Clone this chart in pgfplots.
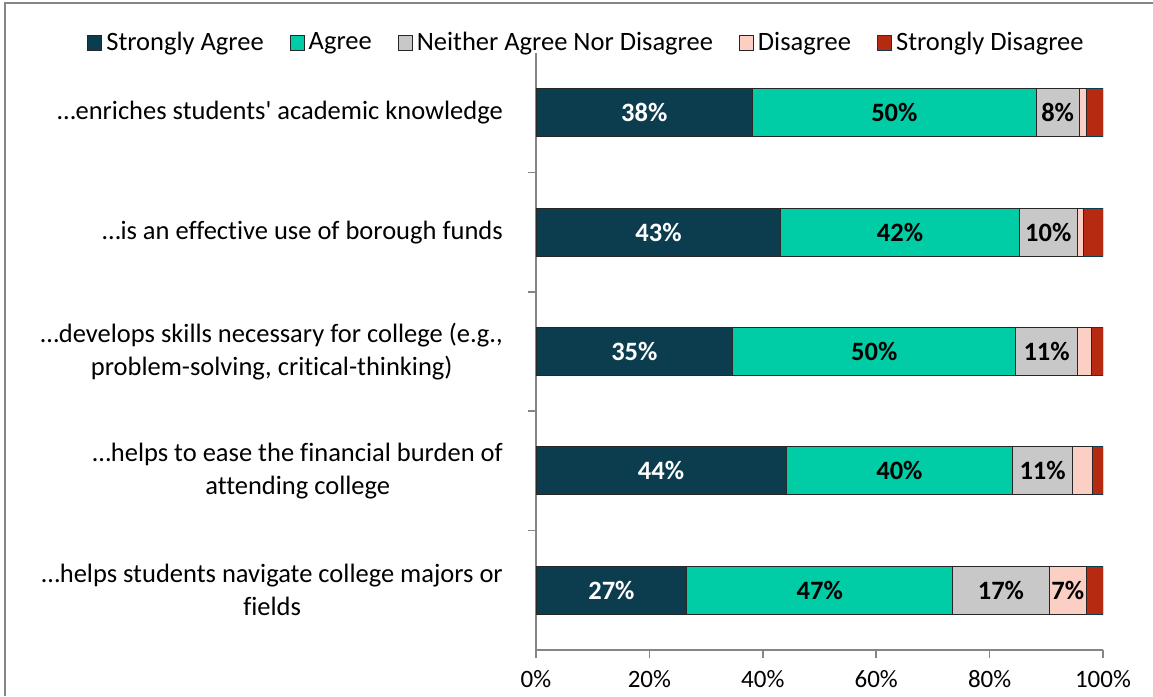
\documentclass[border=0pt]{standalone}
\usepackage{pgfplots}
\pgfplotsset{compat=1.18}
\usepackage{fontspec}
\setmainfont{Carlito}[Ligatures={TeXOff,NoCommon}]
\definecolor{sa}{HTML}{0B3D4F}
\definecolor{ag}{HTML}{00CCA6}
\definecolor{ne}{HTML}{C8C8C8}
\definecolor{di}{HTML}{FCCFC4}
\definecolor{sd}{HTML}{B72A12}
\definecolor{axc}{HTML}{868686}
\newcommand{\bigf}{\fontsize{26.5}{33}\selectfont}
\begin{document}
\fontsize{25}{33}\selectfont
\begin{tikzpicture}[x=1pt,y=1pt]
\useasboundingbox (0,0) rectangle (1153,696);
\draw[axc, line width=2pt] (5,0) -- (5,693) -- (1153,693);
\begin{axis}[
  at={(536pt,46pt)}, anchor=south west,
  width=567pt, height=597pt, scale only axis,
  xbar stacked, bar width=48pt,
  xmin=0, xmax=100, ymin=0.5, ymax=5.5,
  axis x line*=bottom, axis y line*=left,
  axis line style={axc, line width=1.5pt},
  xtick={0,20,...,100}, xticklabels={0\%,20\%,40\%,60\%,80\%,100\%},
  tick style={draw=axc, line width=1.5pt},
  major tick length=8pt, tick align=outside,
  ytick={1.5,2.5,3.5,4.5}, yticklabels={},
  extra y ticks={1,2,3,4,5},
  extra y tick labels={{…helps students navigate college majors or\\fields},
    {…helps to ease the financial burden of\\attending college},
    {…develops skills necessary for college (e.g.,\\problem-solving, critical-thinking)},
    {…is an effective use of borough funds},
    {…enriches students' academic knowledge}},
  extra y tick style={major tick length=0pt},
  yticklabel style={align=center, inner sep=0pt, xshift=-33pt, font=\bigf},
  xticklabel style={yshift=-4pt},
  point meta=explicit symbolic,
  nodes near coords,
  every node near coord/.style={anchor=center, font=\bigf\bfseries},
  legend style={at={(0.089,1.017)}, anchor=center, draw=none, fill=none, font=\bigf,
    legend columns=-1, /tikz/every even column/.append style={column sep=24pt},
    /tikz/every odd column/.append style={column sep=2pt}},
  legend image code/.code={\draw[#1, line width=1pt] (0pt,-7.5pt) rectangle (14pt,7.5pt);},
]
\addplot[fill=sa, draw=black!85, line width=1pt, every node near coord/.append style={text=white}]
  coordinates {(26.6,1)[27\%] (44.1,2)[44\%] (34.7,3)[35\%] (43.2,4)[43\%] (38.2,5)[38\%]};
\addplot[fill=ag, draw=black!85, line width=1pt]
  coordinates {(46.9,1)[47\%] (40.0,2)[40\%] (49.9,3)[50\%] (42.0,4)[42\%] (50.0,5)[50\%]};
\addplot[fill=ne, draw=black!85, line width=1pt]
  coordinates {(17.0,1)[17\%] (10.5,2)[11\%] (10.9,3)[11\%] (10.3,4)[10\%] (7.6,5)[8\%]};
\addplot[fill=di, draw=black!85, line width=1pt]
  coordinates {(6.6,1)[7\%] (3.5,2)[{}] (2.4,3)[{}] (1.0,4)[{}] (1.3,5)[{}]};
\addplot[fill=sd, draw=sa, line width=1pt]
  coordinates {(2.9,1)[{}] (1.9,2)[{}] (2.1,3)[{}] (3.5,4)[{}] (2.9,5)[{}]};
\legend{Strongly Agree, Agree, Neither Agree Nor Disagree, Disagree, Strongly Disagree}
\end{axis}
\end{tikzpicture}
\end{document}
